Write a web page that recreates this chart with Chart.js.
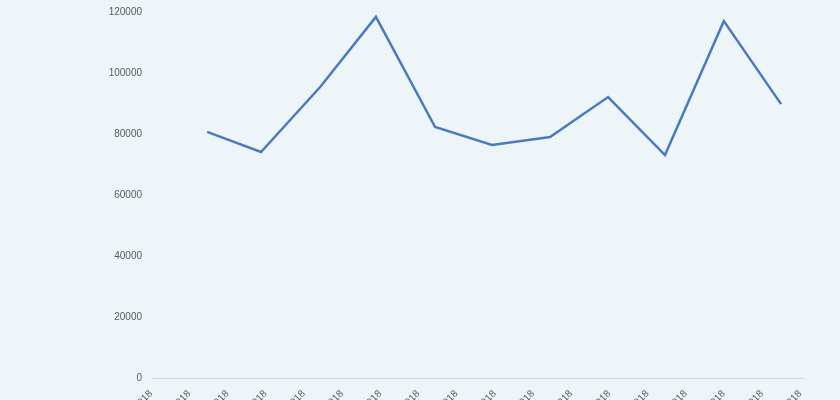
<!DOCTYPE html>
<html>
<head>
<meta charset="utf-8">
<script src="https://cdn.jsdelivr.net/npm/chart.js@4"></script>
<style>
    html, body { margin: 0; padding: 0; background: #eef5f9; overflow: hidden; }
    #wrap { width: 840px; height: 432px; position: relative; }
</style>
</head>
<body>
<div id="wrap"><canvas id="chart"></canvas></div>
<script>
// Tick labels along the date axis
const dateLabels = [
    '01/01/2018', '21/01/2018', '10/02/2018', '02/03/2018', '22/03/2018', '11/04/2018',
    '01/05/2018', '21/05/2018', '10/06/2018', '30/06/2018', '20/07/2018', '09/08/2018',
    '29/08/2018', '18/09/2018', '08/10/2018', '28/10/2018', '17/11/2018', '07/12/2018'
];

// Data points (x in label steps, roughly one point per month end)
const pointX = [1.47, 2.88, 4.43, 5.89, 7.44, 8.93, 10.45, 11.97, 13.46, 15.0, 16.5];
const pointValues = [80700, 74100, 95400, 118400, 82300, 76400, 79000, 92100, 73100, 117000, 89800];

const yTicks = [0, 20000, 40000, 60000, 80000, 100000, 120000];

const ctx = document.getElementById('chart').getContext('2d');

new Chart(ctx, {
    type: 'line',
    data: {
        datasets: [{
            data: pointX.map((x, i) => ({ x: x, y: pointValues[i] })),
            borderColor: '#4a7bc0',
            borderWidth: 2.5,
            pointRadius: 0,
            fill: false,
            tension: 0
        }]
    },
    options: {
        responsive: true,
        maintainAspectRatio: false,
        animation: false,
        layout: {
            padding: { left: 0, right: 36, top: 12, bottom: 2 }
        },
        plugins: {
            legend: { display: false },
            tooltip: { enabled: false }
        },
        scales: {
            x: {
                type: 'linear',
                min: 0,
                max: 17.1,
                grid: { display: false },
                border: { display: true, color: '#d9d9d9', width: 1 },
                afterBuildTicks: (scale) => {
                    scale.ticks = dateLabels.map((l, i) => ({ value: i }));
                },
                afterFit: (scale) => { scale.height = 52; },
                ticks: {
                    autoSkip: false,
                    maxRotation: 45,
                    minRotation: 45,
                    padding: 2,
                    color: '#595959',
                    font: { family: 'Liberation Sans', size: 10 },
                    callback: (v) => dateLabels[v]
                }
            },
            y: {
                min: 0,
                max: 120000,
                grid: { display: false },
                border: { display: false },
                afterBuildTicks: (scale) => {
                    scale.ticks = yTicks.map(v => ({ value: v }));
                },
                afterFit: (scale) => { scale.width = 151; },
                ticks: {
                    padding: 1,
                    color: '#595959',
                    font: { family: 'Liberation Sans', size: 10 },
                    callback: (v) => String(v)
                }
            }
        }
    }
});
</script>
</body>
</html>
